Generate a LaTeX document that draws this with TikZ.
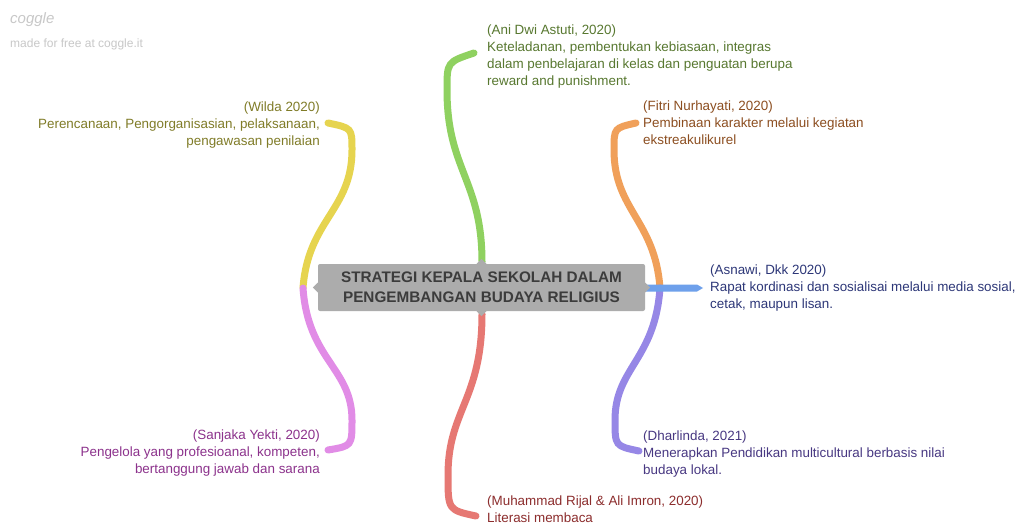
\documentclass[tikz,border=0pt]{standalone}
\usepackage{fontspec}
\setmainfont{Liberation Sans}
\definecolor{lgreen}{RGB}{143,209,96}
\definecolor{lyellow}{RGB}{230,212,79}
\definecolor{lorange}{RGB}{240,160,90}
\definecolor{lblue}{RGB}{110,160,235}
\definecolor{lpurple}{RGB}{150,135,230}
\definecolor{lpink}{RGB}{225,140,230}
\definecolor{lred}{RGB}{230,120,115}
\definecolor{tgreen}{RGB}{88,120,48}
\definecolor{tyellow}{RGB}{128,124,40}
\definecolor{torange}{RGB}{140,78,32}
\definecolor{tblue}{RGB}{45,55,120}
\definecolor{tpurple}{RGB}{72,56,130}
\definecolor{tpink}{RGB}{140,50,140}
\definecolor{tred}{RGB}{140,45,45}
\definecolor{boxgray}{RGB}{172,172,172}
\definecolor{boxtext}{RGB}{60,60,60}
\definecolor{logogray}{RGB}{200,200,200}
\begin{document}
\begin{tikzpicture}[x=1pt,y=-1pt,
  branch/.style={line width=7pt,line cap=round},
  leafL/.style={anchor=north west,inner sep=0pt,align=left,font=\fontsize{13.4}{17}\selectfont},
  leafR/.style={anchor=north east,inner sep=0pt,align=right,font=\fontsize{13.4}{17}\selectfont},
  rootbox/.style={fill=boxgray,rounded corners=2pt,minimum width=327pt,minimum height=47pt,inner sep=0pt,align=center,text=boxtext,font=\bfseries\fontsize{15.3}{20}\selectfont}
]
\fill[white] (0,0) rectangle (1015,524);
\useasboundingbox (0,0) rectangle (1015,524);

% logo
\node[anchor=west,inner sep=0pt,text=logogray,font=\itshape\fontsize{15}{16}\selectfont] (logo) at (10,20) {coggle};
\node[anchor=west,inner sep=0pt,text=logogray,font=\fontsize{12}{14}\selectfont] (logotxt) at (10,44) {made for free at coggle.it};

% junction coordinates
\coordinate (jt) at (482,262);
\coordinate (jb) at (482,314);
\coordinate (jl) at (303,288);
\coordinate (jr) at (660,288);

\coordinate (eg) at (474,53);
\coordinate (ey) at (328,123);
\coordinate (eo) at (636,123);
\coordinate (ep) at (639,451);
\coordinate (ek) at (328,450);
\coordinate (er) at (476,516);

% branches
\draw[branch,lgreen] (jt) .. controls (482,180) and (447,170) .. (447,90) .. controls (447,62) .. (eg);
\draw[branch,lyellow] (jl) .. controls (308,220) and (352,210) .. (352,150) .. controls (352,128) .. (ey);
\draw[branch,lorange] (jr) .. controls (655,220) and (614,210) .. (614,150) .. controls (614,128) .. (eo);
\draw[branch,lpurple] (jr) .. controls (655,360) and (615,368) .. (615,420) .. controls (615,446) .. (ep);
\draw[branch,lpink] (jl) .. controls (308,360) and (352,368) .. (352,420) .. controls (352,446) .. (ek);
\draw[branch,lred] (jb) .. controls (482,400) and (448,410) .. (448,475) .. controls (448,510) .. (er);
\fill[lblue] (646,284.5) -- (697,284.5) -- (703,288) -- (697,291.5) -- (646,291.5) -- cycle;

% root
\node[rootbox] (root) at (481.5,287.5) {STRATEGI KEPALA SEKOLAH DALAM\\PENGEMBANGAN BUDAYA RELIGIUS};
\fill[boxgray] ([xshift=-5pt]root.north) -- ([yshift=5pt]root.north) -- ([xshift=5pt]root.north) -- cycle;
\fill[boxgray] ([xshift=-5pt]root.south) -- ([yshift=-5pt]root.south) -- ([xshift=5pt]root.south) -- cycle;
\fill[boxgray] ([yshift=-5pt]root.east) -- ([xshift=5pt]root.east) -- ([yshift=5pt]root.east) -- cycle;
\fill[boxgray] ([yshift=-5pt]root.west) -- ([xshift=-5pt]root.west) -- ([yshift=5pt]root.west) -- cycle;

% leaves
\node[leafL,text=tgreen] (ani) at (487,25) {(Ani Dwi Astuti, 2020)\\Keteladanan, pembentukan kebiasaan, integras\\dalam penbelajaran di kelas dan penguatan berupa\\reward and punishment.};
\node[leafR,text=tyellow] (wilda) at (320,102) {(Wilda 2020)\\Perencanaan, Pengorganisasian, pelaksanaan,\\pengawasan penilaian};
\node[leafL,text=torange] (fitri) at (643,101) {(Fitri Nurhayati, 2020)\\Pembinaan karakter melalui kegiatan\\ekstreakulikurel};
\node[leafL,text=tblue] (asnawi) at (710,265) {(Asnawi, Dkk 2020)\\Rapat kordinasi dan sosialisai melalui media sosial,\\cetak, maupun lisan.};
\node[leafL,text=tpurple] (dharlinda) at (643,431) {(Dharlinda, 2021)\\Menerapkan Pendidikan multicultural berbasis nilai\\budaya lokal.};
\node[leafR,text=tpink] (sanjaka) at (320,430) {(Sanjaka Yekti, 2020)\\Pengelola yang profesioanal, kompeten,\\bertanggung jawab dan sarana};
\node[leafL,text=tred] (rijal) at (487,496) {(Muhammad Rijal \& Ali Imron, 2020)\\Literasi membaca};
\end{tikzpicture}
\end{document}
